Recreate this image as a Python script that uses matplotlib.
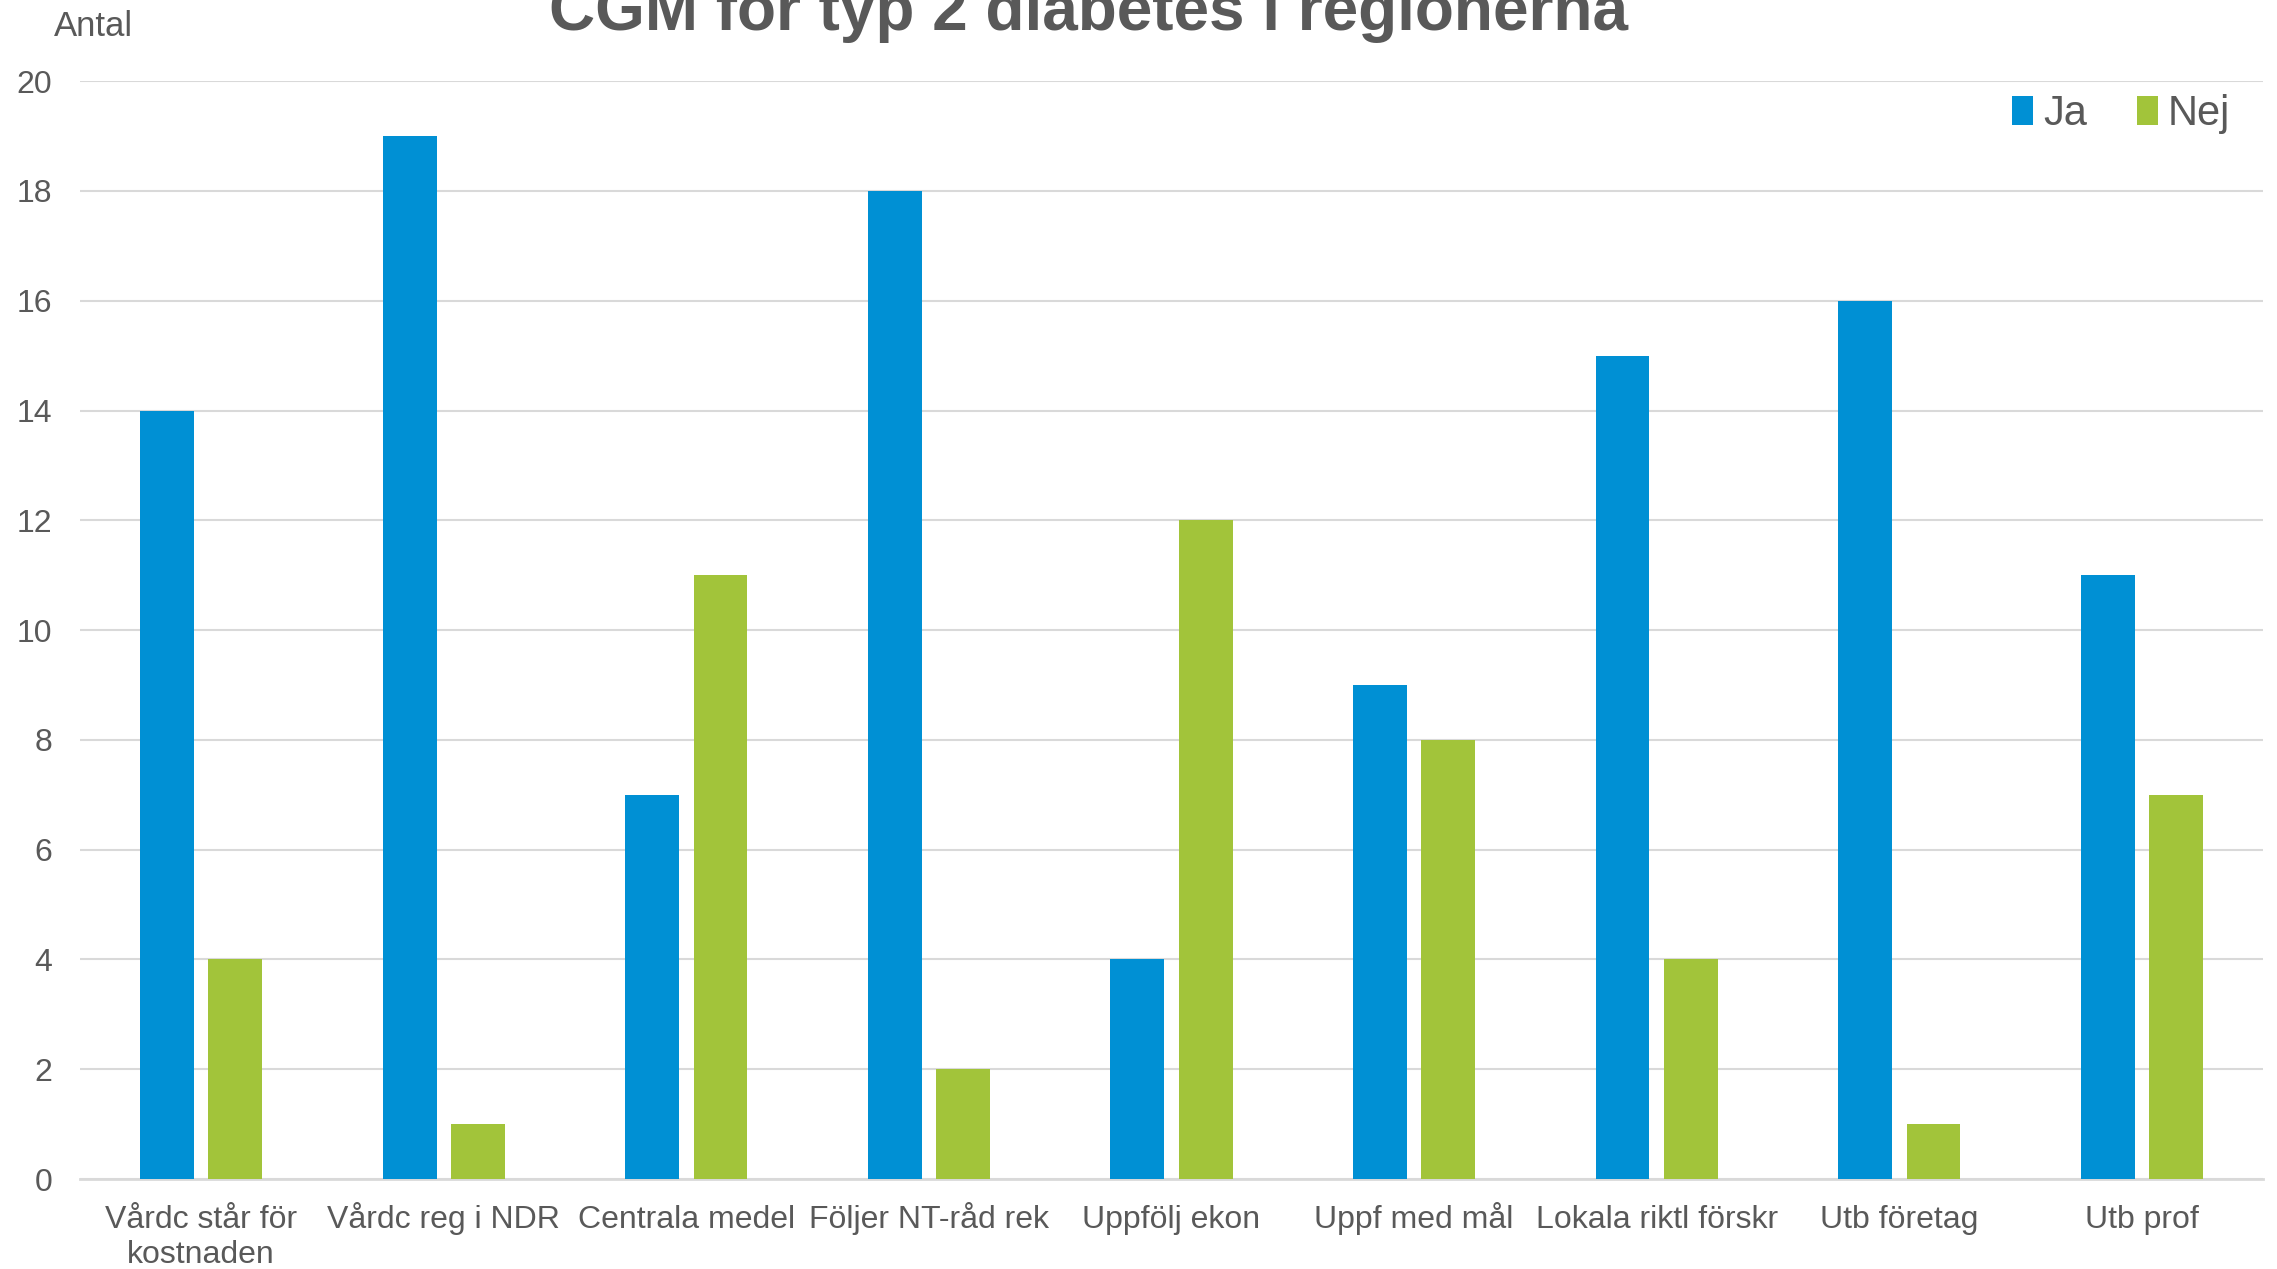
import matplotlib
matplotlib.use("Agg")
import matplotlib.pyplot as plt
import matplotlib.transforms as mtransforms
import numpy as np

categories = ["Vårdc står för\nkostnaden", "Vårdc reg i NDR", "Centrala medel", "Följer NT-råd rek",
              "Uppfölj ekon", "Uppf med mål", "Lokala riktl förskr", "Utb företag", "Utb prof"]
ja = [14, 19, 7, 18, 4, 9, 15, 16, 11]
nej = [4, 1, 11, 2, 12, 8, 4, 1, 7]
yticks = [0, 2, 4, 6, 8, 10, 12, 14, 16, 18, 20]

plt.rcParams['font.family'] = ['Liberation Sans', 'DejaVu Sans']
txt = '#595959'
blue = '#0090D4'
green = '#A2C43A'

fig = plt.figure(figsize=(22.77, 12.69), dpi=100)
ax = fig.add_axes([0.0351, 0.0709, 0.9588, 0.8651])

x = np.arange(len(categories))
w = 0.222
off = 0.141
ax.bar(x - off, ja, width=w, color=blue, label='Ja', zorder=3)
ax.bar(x + off, nej, width=w, color=green, label='Nej', zorder=3)

ax.set_xlim(-0.5, len(categories) - 0.5)
ax.set_ylim(0, 20)
ax.set_yticks(yticks)
ax.set_xticks(x)
ax.set_xticklabels([])
ax.tick_params(axis='y', labelsize=23, labelcolor=txt, length=0, pad=20)
ax.tick_params(axis='x', length=0)

# category labels: each line baseline-aligned so all first lines share a baseline
base = ax.get_xaxis_transform()
first_px = 49   # baseline of first line below the axis, in pixels
line_px = 35    # line step in pixels
for xi, cat in zip(x, categories):
    for k, line in enumerate(cat.split("\n")):
        tr = base + mtransforms.ScaledTranslation(0, -(first_px + k * line_px) / 100.0,
                                                  fig.dpi_scale_trans)
        ax.text(xi, 0, line, transform=tr, ha='center', va='baseline',
                fontsize=23, color=txt, clip_on=False)

ax.grid(axis='y', color='#D9D9D9', linewidth=1.5, zorder=0)
for s in ['left', 'right', 'top']:
    ax.spines[s].set_visible(False)
ax.spines['bottom'].set_color('#D9D9D9')
ax.spines['bottom'].set_linewidth(2)

fig.text(0.0237, 0.979, 'Antal', fontsize=25, color=txt, va='center', ha='left')
fig.text(0.478, 0.976, 'CGM för typ 2 diabetes i regionerna', fontsize=46, fontweight='bold',
         color=txt, ha='center', va='baseline')

leg = ax.legend(loc='center right', bbox_to_anchor=(0.985, 0.97), ncol=2, frameon=False,
                fontsize=30, handlelength=0.5, handleheight=0.7, handletextpad=0.25,
                columnspacing=1.2, borderpad=0, borderaxespad=0)
for t in leg.get_texts():
    t.set_color(txt)

fig.savefig('out.png', dpi=100)
